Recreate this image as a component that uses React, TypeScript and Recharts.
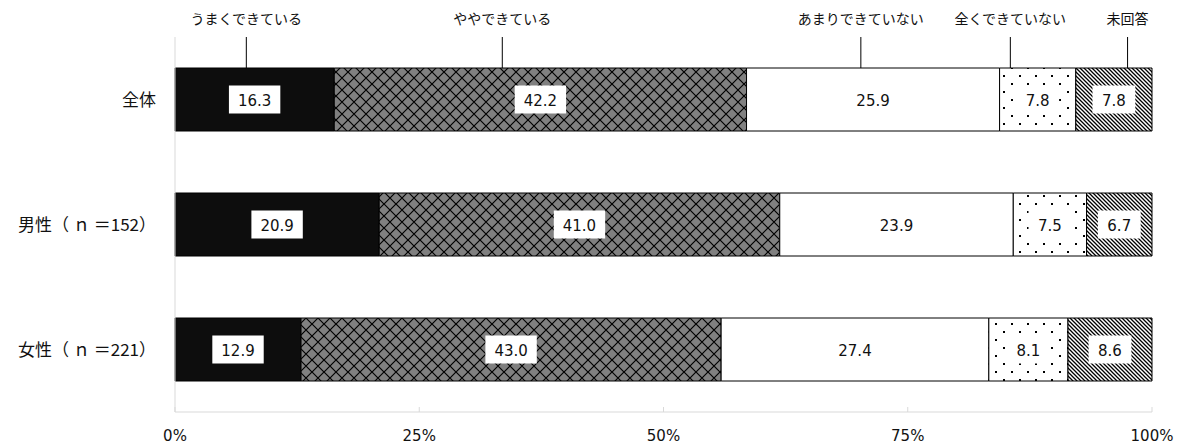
import React from 'react';
import { BarChart, Bar, XAxis, YAxis, LabelList, ReferenceLine } from 'recharts';

const categories = ['全体', '男性（ ｎ ＝152）', '女性（ ｎ ＝221）'];
const seriesNames = ['うまくできている', 'ややできている', 'あまりできていない', '全くできていない', '未回答'];
const good = [16.3, 20.9, 12.9];
const fair = [42.2, 41.0, 43.0];
const poor = [25.9, 23.9, 27.4];
const none = [7.8, 7.5, 8.1];
const noAnswer = [7.8, 6.7, 8.6];
const xTicks = [0, 25, 50, 75, 100];
// axis value (%) where each series name is called out above the first bar
const calloutAt = [7.3, 33.5, 70.2, 85.5, 97.5];

const keys = ['good', 'fair', 'poor', 'none', 'noAnswer'];
const fills = ['#0d0d0d', 'url(#diamond)', '#ffffff', 'url(#dots)', 'url(#hatch)'];

const data = categories.map((name, i) => ({
  name,
  good: good[i],
  fair: fair[i],
  poor: poor[i],
  none: none[i],
  noAnswer: noAnswer[i],
}));

const numFont = '"DejaVu Sans", Verdana, sans-serif';
const jpFont = '"Noto Sans CJK JP", "Noto Sans", sans-serif';
const ink = '#111';

const ValueBox = (props: any) => {
  const { x, y, width, height, value } = props;
  const cx = x + width / 2;
  const cy = y + height / 2;
  const text = Number(value).toFixed(1);
  const w = text.length * 8.6 + 17;
  return (
    <g>
      <rect x={cx - w / 2} y={cy - 14} width={w} height={28} fill="#fff" />
      <text x={cx} y={cy + 1} textAnchor="middle" dominantBaseline="central" fontSize={15} fontFamily={numFont} fill={ink}>
        {text}
      </text>
    </g>
  );
};

const PctTick = ({ x, y, payload }: any) => (
  <g>
    <line x1={x} x2={x} y1={y - 5} y2={y} stroke="#d9d9d9" />
    <text x={x} y={y + 29} textAnchor="middle" fontSize={15} fontFamily={numFont} fill={ink}>
      {payload.value}%
    </text>
  </g>
);

const callout = (name: string) => (p: any) => {
  const top = Math.min(p.y1, p.y2);
  return (
    <g>
      <line x1={p.x1} x2={p.x1} y1={top} y2={top + 31} stroke="#000" strokeWidth={1} />
      <text x={p.x1} y={top - 19} textAnchor="middle" dominantBaseline="central" fontSize={14} fontFamily={jpFont} fill={ink}>
        {name}
      </text>
    </g>
  );
};

export default function App() {
  return (
    <div style={{ position: 'absolute', left: 0, top: 0, background: '#fff' }}>
      <BarChart
        width={1190}
        height={445}
        data={data}
        layout="vertical"
        margin={{ top: 37, right: 38, bottom: 0, left: 0 }}
      >
        <defs>
          <pattern id="diamond" width={12} height={12} patternUnits="userSpaceOnUse">
            <rect width={12} height={12} fill="#808080" />
            <path d="M0,0 L12,12 M12,0 L0,12" stroke="#000" strokeWidth={1.2} />
          </pattern>
          <pattern id="dots" width={16} height={16} patternUnits="userSpaceOnUse">
            <rect width={16} height={16} fill="#fff" />
            <rect x={3} y={3} width={2} height={2} fill="#000" />
            <rect x={11} y={11} width={2} height={2} fill="#000" />
          </pattern>
          <pattern id="hatch" width={4} height={4} patternUnits="userSpaceOnUse">
            <rect width={4} height={4} fill="#fff" />
            <path d="M0,0 L4,4 M-1,3 L1,5 M3,-1 L5,1" stroke="#000" strokeWidth={1.3} />
          </pattern>
        </defs>
        <XAxis
          type="number"
          domain={[0, 100]}
          ticks={xTicks}
          interval={0}
          height={33}
          axisLine={{ stroke: '#d9d9d9' }}
          tickLine={false}
          tickSize={0}
          tickMargin={0}
          tick={<PctTick />}
        />
        <YAxis
          type="category"
          dataKey="name"
          width={175}
          axisLine={{ stroke: '#d9d9d9' }}
          tickLine={false}
          tickSize={0}
          tickMargin={19}
          tick={{ fontSize: 17, fontFamily: jpFont, fill: ink }}
        />
        {keys.map((k, i) => (
          <Bar
            key={k}
            dataKey={k}
            name={seriesNames[i]}
            stackId="a"
            barSize={63}
            fill={fills[i]}
            stroke="#000"
            strokeWidth={1}
            isAnimationActive={false}
          >
            <LabelList dataKey={k} content={<ValueBox />} />
          </Bar>
        ))}
        {seriesNames.map((n, i) => (
          <ReferenceLine key={n} x={calloutAt[i]} stroke="#000" shape={callout(n)} />
        ))}
      </BarChart>
    </div>
  );
}
